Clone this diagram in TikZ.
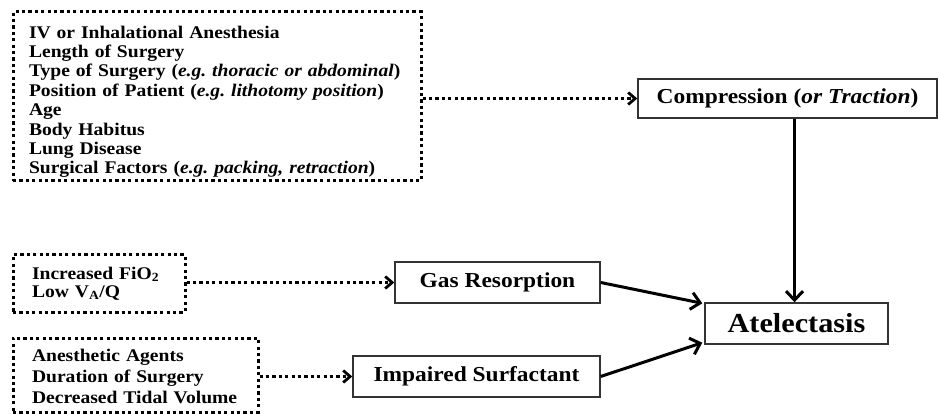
\documentclass[tikz,border=0pt]{standalone}
\usepackage{fontspec}
\setmainfont{Liberation Serif}[FakeStretch=1.1]
\usetikzlibrary{arrows.meta}
\begin{document}
\frenchspacing
\begin{tikzpicture}[x=1pt,y=-1pt,
  solidbox/.style={draw=black!80, line width=1.4pt, inner sep=0pt, font=\fontsize{21.3}{24}\selectfont\bfseries},
  dotbox/.style={draw=black, line width=3pt, dash pattern=on 3.2pt off 3.2pt, inner ysep=0pt, align=left},
  dotarrow/.style={line width=3pt, dash pattern=on 3.2pt off 3.2pt, -{Straight Barb[length=7pt,width=12pt,line width=2.8pt]}},
  solidarrow/.style={line width=3pt, -{Straight Barb[length=9pt,width=17pt,line width=3pt]}}]
\useasboundingbox (0,0) rectangle (940,414);

\node[dotbox, text width=376pt, inner xsep=16pt, minimum height=169pt,
      font=\fontsize{17.8}{19.4}\selectfont\bfseries] (risk) at (217,96.5)
  {\rule{0pt}{23pt}IV or Inhalational Anesthesia\\
   Length of Surgery\\
   Type of Surgery (\textit{e.g. thoracic or abdominal})\\
   Position of Patient (\textit{e.g. lithotomy position})\\
   Age\\
   Body Habitus\\
   Lung Disease\\
   Surgical Factors (\textit{e.g. packing, retraction})};

\node[dotbox, text width=134pt, inner xsep=19pt, minimum height=57pt,
      font=\fontsize{17.8}{18}\selectfont\bfseries] (fio) at (99,283.5)
  {Increased FiO\textsubscript{2}\\
   Low V\textsubscript{A}/Q};

\node[dotbox, text width=207pt, inner xsep=19pt, minimum height=74pt,
      font=\fontsize{17.8}{21}\selectfont\bfseries] (anes) at (135.5,375)
  {\rule{0pt}{16pt}Anesthetic Agents\\
   Duration of Surgery\\
   Decreased Tidal Volume};

\node[solidbox, minimum width=299pt, minimum height=39pt] (comp) at (787.5,98.5)
  {Compression (\textit{or Traction})};
\node[solidbox, minimum width=205pt, minimum height=41pt] (gas) at (497.5,282.5)
  {Gas Resorption};
\node[solidbox, minimum width=247pt, minimum height=41pt] (imp) at (476.5,376.5)
  {Impaired Surfactant};
\node[solidbox, minimum width=183pt, minimum height=41pt,
      font=\fontsize{27.5}{30}\selectfont\bfseries] (atel) at (796.5,323.5)
  {Atelectasis};

\draw[dotarrow] (comp.west -| risk.east) -- (comp.west);
\draw[dotarrow] (gas.west -| fio.east) -- (gas.west);
\draw[dotarrow] (imp.west -| anes.east) -- (imp.west);

\draw[solidarrow] ([xshift=-2pt]atel.north |- comp.south) -- ([xshift=-2pt]atel.north);
\draw[solidarrow] (gas.east) -- ([shift={(-2pt,-1pt)}]atel.north west);
\draw[solidarrow] (imp.east) -- ([shift={(-2pt,2pt)}]atel.south west);
\end{tikzpicture}
\end{document}
